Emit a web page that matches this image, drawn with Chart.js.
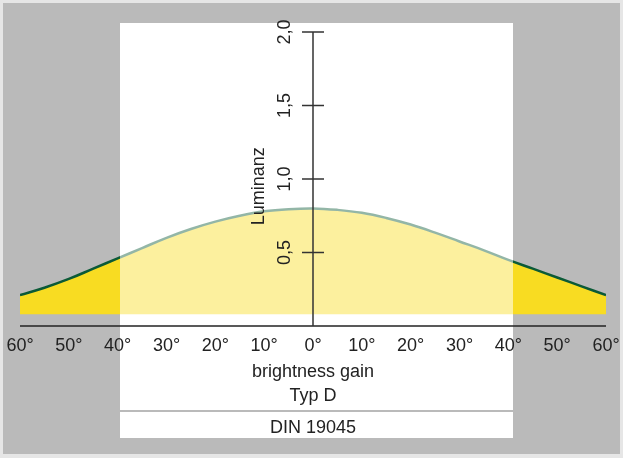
<!DOCTYPE html>
<html>
<head>
<meta charset="utf-8">
<script src="https://cdn.jsdelivr.net/npm/chart.js@4.4.0/dist/chart.umd.min.js"></script>
<style>
  html, body { margin: 0; padding: 0; background: #fff; }
  #wrap { width: 623px; height: 458px; }
</style>
</head>
<body>
<div id="wrap"><canvas id="myChart" width="623" height="458"></canvas></div>
<script>
// viewing angle (deg) vs luminance
const angles = [-60, -55, -50, -45, -40, -35, -30, -25, -20, -15, -10, -5, 0, 5, 10, 15, 20, 25, 30, 35, 40, 45, 50, 55, 60]
const luminance = [0.21, 0.26, 0.32, 0.39, 0.46, 0.53, 0.60, 0.66, 0.71, 0.75, 0.78, 0.795, 0.80, 0.79, 0.77, 0.735, 0.69, 0.635, 0.575, 0.515, 0.45, 0.39, 0.33, 0.27, 0.21]
const yTicks = [0.5, 1.0, 1.5, 2.0]
const yTickLabels = ['0,5', '1,0', '1,5', '2,0']
const yTitle = 'Luminanz'
const bottomLines = ['brightness gain', 'Typ D']
const footer = 'DIN 19045'

const FONT = "'Liberation Sans', Arial, sans-serif"
const TEXT = '#222'

deco = {
  id: 'deco',
  beforeDraw: (chart) => {
    const c = chart.ctx
    c.save()
    c.fillStyle = '#e6e6e6'
    c.fillRect(0, 0, chart.width, chart.height)
    c.fillStyle = '#bababa'
    c.fillRect(3, 3, 617, 451)
    c.fillStyle = '#fff'
    c.fillRect(120, 23, 393, 415)
    c.fillStyle = '#bababa'
    c.fillRect(120, 410, 393, 2)
    c.restore()
  },
  afterDatasetsDraw: (chart) => {
    const c = chart.ctx
    const xs = chart.scales.x, ys = chart.scales.y
    const x0 = xs.getPixelForValue(0)
    const yb = ys.getPixelForValue(0)
    c.save()
    // pale white panel over the middle of the curve
    c.fillStyle = 'rgba(255,255,255,0.56)'
    c.fillRect(120, 23, 393, yb - 23 - 1)

    // horizontal base line
    c.strokeStyle = '#222'
    c.lineWidth = 1.5
    c.beginPath()
    c.moveTo(xs.getPixelForValue(-60), yb)
    c.lineTo(xs.getPixelForValue(60), yb)
    c.stroke()

    // vertical axis + ticks
    c.strokeStyle = '#333'
    c.beginPath()
    c.moveTo(x0, yb)
    c.lineTo(x0, ys.getPixelForValue(yTicks[yTicks.length - 1]))
    yTicks.forEach((v) => {
      const py = ys.getPixelForValue(v)
      c.moveTo(x0 - 11, py)
      c.lineTo(x0 + 11, py)
    })
    c.stroke()

    c.fillStyle = TEXT
    c.font = '18px ' + FONT
    c.textAlign = 'center'
    c.textBaseline = 'middle'
    yTicks.forEach((v, i) => {
      c.save()
      c.translate(x0 - 28, ys.getPixelForValue(v))
      c.rotate(-Math.PI / 2)
      c.fillText(yTickLabels[i], 0, 0)
      c.restore()
    })
    c.save()
    c.translate(x0 - 54, ys.getPixelForValue(0.95))
    c.rotate(-Math.PI / 2)
    c.fillText(yTitle, 0, 0)
    c.restore()

    c.textBaseline = 'alphabetic'
    c.fillText(bottomLines[0], x0, 377)
    c.fillText(bottomLines[1], x0, 401)
    c.fillText(footer, x0, 433)
    c.restore()
  }
}

drawChart = () => {
  const ctx = document.getElementById('myChart').getContext('2d')
  const data = {
    datasets: [{
      data: angles.map((a, i) => ({ x: a, y: luminance[i] })),
      borderColor: '#0b5a37',
      borderWidth: 2.5,
      backgroundColor: '#f8dc22',
      fill: { value: 0.08 },
      pointRadius: 0,
      tension: 0.4
    }]
  }
  const options = {
    responsive: false,
    animation: false,
    layout: { padding: { left: 20, right: 17, top: 32, bottom: 102 } },
    plugins: { legend: { display: false }, tooltip: { enabled: false } },
    scales: {
      x: {
        type: 'linear', min: -60, max: 60,
        afterFit: (s) => { s.height = 30; s.paddingLeft = 0; s.paddingRight = 0 },
        grid: { display: false, drawTicks: false },
        border: { display: false },
        ticks: {
          stepSize: 10, autoSkip: false, maxRotation: 0, padding: 9,
          color: TEXT, font: { size: 18, family: FONT },
          callback: (v) => Math.abs(v) + '°'
        }
      },
      y: { display: false, min: 0, max: 2 }
    }
  }
  new Chart(ctx, { type: 'line', data: data, options: options, plugins: [deco] })
}
drawChart()
</script>
</body>
</html>
